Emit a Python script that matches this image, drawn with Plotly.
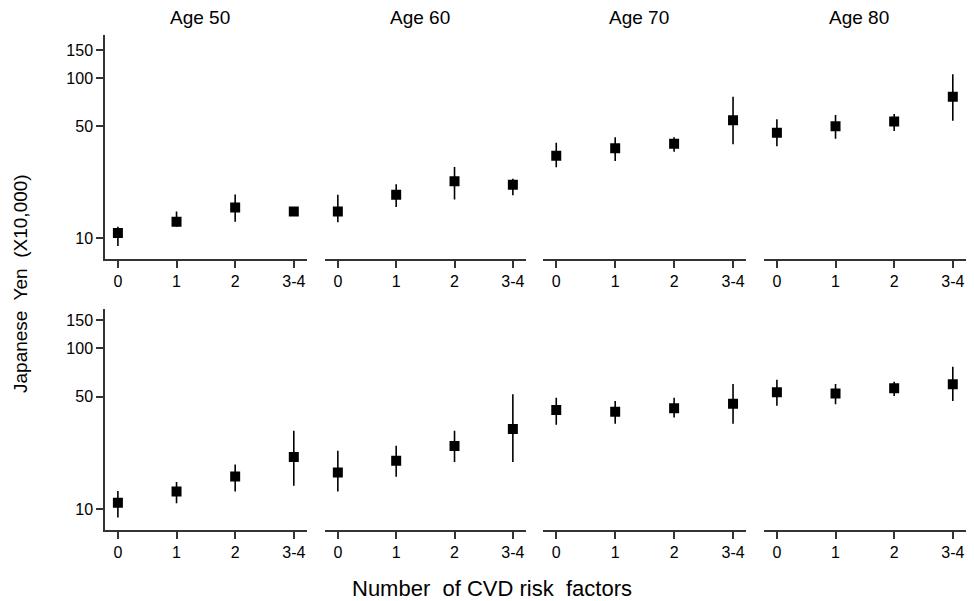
import plotly.graph_objects as go

categories = ["0", "1", "2", "3-4"]
ages = ["Age 50", "Age 60", "Age 70", "Age 80"]

# Top row: point estimate, lower and upper limits (x10,000 yen)
top_mean = [[10.8, 12.7, 15.6, 14.7],
            [14.7, 18.7, 22.7, 21.6],
            [32.8, 36.6, 39.0, 54.6],
            [45.7, 50.1, 53.8, 76.7]]
top_lo = [[8.95, 11.8, 12.7, 14.0],
          [12.6, 15.7, 17.5, 18.6],
          [27.8, 30.4, 34.8, 38.7],
          [37.6, 41.9, 46.8, 54.3]]
top_hi = [[11.8, 14.7, 18.8, 15.4],
          [18.7, 21.8, 27.9, 23.6],
          [39.6, 42.8, 42.8, 76.7],
          [55.5, 59.0, 59.8, 106.0]]

# Bottom row
bot_mean = [[11.0, 12.9, 16.0, 21.1],
            [16.9, 20.0, 24.7, 31.5],
            [41.4, 40.4, 42.4, 45.3],
            [53.3, 52.3, 56.4, 59.7]]
bot_lo = [[8.9, 10.9, 12.9, 14.0],
          [12.9, 15.9, 19.7, 19.7],
          [33.5, 34.0, 37.2, 34.0],
          [44.0, 44.9, 50.6, 47.1]]
bot_hi = [[13.0, 14.8, 19.0, 30.8],
          [23.1, 24.8, 30.8, 51.8],
          [49.3, 47.1, 49.3, 60.0],
          [63.8, 60.0, 62.0, 76.9]]

ytickvals = [10, 50, 100, 150]

W, H = 974, 601
FONT = "Liberation Sans, Arial, sans-serif"
LINE = "#333333"

x_px = [(105, 306.7), (325, 525.7), (543.3, 746), (764, 965.7)]
rows = [
    dict(mean=top_mean, lo=top_lo, hi=top_hi, ypx=(35, 259.3), yrange=[0.869, 2.2706]),
    dict(mean=bot_mean, lo=bot_lo, hi=bot_hi, ypx=(309, 530), yrange=[0.8714, 2.244]),
]

fig = go.Figure()
layout = {}
idx = 0
for r, row in enumerate(rows):
    for c in range(4):
        idx += 1
        xa = "x" if idx == 1 else f"x{idx}"
        ya = "y" if idx == 1 else f"y{idx}"
        m = row["mean"][c]
        lo = row["lo"][c]
        hi = row["hi"][c]
        fig.add_trace(go.Scatter(
            x=categories, y=m, mode="markers",
            marker=dict(symbol="square", size=10, color="black"),
            error_y=dict(type="data", symmetric=False,
                         array=[h - v for h, v in zip(hi, m)],
                         arrayminus=[v - l for v, l in zip(m, lo)],
                         width=0, thickness=1.6, color="black"),
            xaxis=xa, yaxis=ya, showlegend=False, hoverinfo="x+y",
        ))
        x0, x1 = x_px[c]
        y0, y1 = row["ypx"]
        layout[f"xaxis{idx}"] = dict(
            domain=[x0 / W, x1 / W], anchor=ya,
            type="category", categoryorder="array", categoryarray=categories,
            range=[-0.22, 3.22],
            showline=True, linecolor=LINE, linewidth=1.5,
            ticks="outside", ticklen=7, tickwidth=1.5, tickcolor=LINE,
            showgrid=False, zeroline=False,
            tickfont=dict(family=FONT, size=16, color="black"),
            fixedrange=True,
        )
        layout[f"yaxis{idx}"] = dict(
            domain=[1 - y1 / H, 1 - y0 / H], anchor=xa,
            type="log", range=row["yrange"],
            showline=(c == 0), linecolor=LINE, linewidth=1.5,
            ticks="outside" if c == 0 else "", ticklen=7, tickwidth=1.5, tickcolor=LINE,
            tickvals=ytickvals, ticktext=[str(v) for v in ytickvals],
            showticklabels=(c == 0),
            showgrid=False, zeroline=False,
            tickfont=dict(family=FONT, size=16, color="black"),
            fixedrange=True,
        )

annotations = []
for c, age in enumerate(ages):
    annotations.append(dict(
        text=age, xref="x" if c == 0 else f"x{c + 1}", yref="paper",
        x=1.4, y=1 - 18 / H, xanchor="center", yanchor="middle",
        showarrow=False, font=dict(family=FONT, size=19, color="black"),
    ))
annotations.append(dict(
    text="Japanese  Yen  (X10,000)", xref="paper", yref="paper",
    x=20 / W, y=1 - 284 / H, textangle=-90, xanchor="center", yanchor="middle",
    showarrow=False, font=dict(family=FONT, size=19, color="black"),
))
annotations.append(dict(
    text="Number  of CVD risk  factors", xref="paper", yref="paper",
    x=492 / W, y=1 - 588 / H, xanchor="center", yanchor="middle",
    showarrow=False, font=dict(family=FONT, size=22, color="black"),
))

fig.update_layout(
    width=W, height=H,
    margin=dict(l=0, r=0, t=0, b=0),
    paper_bgcolor="white", plot_bgcolor="white",
    annotations=annotations,
    **layout,
)

fig.write_html("out.html", config={"displayModeBar": False},
               post_script="document.body.style.margin='0';document.body.style.overflow='hidden';")
